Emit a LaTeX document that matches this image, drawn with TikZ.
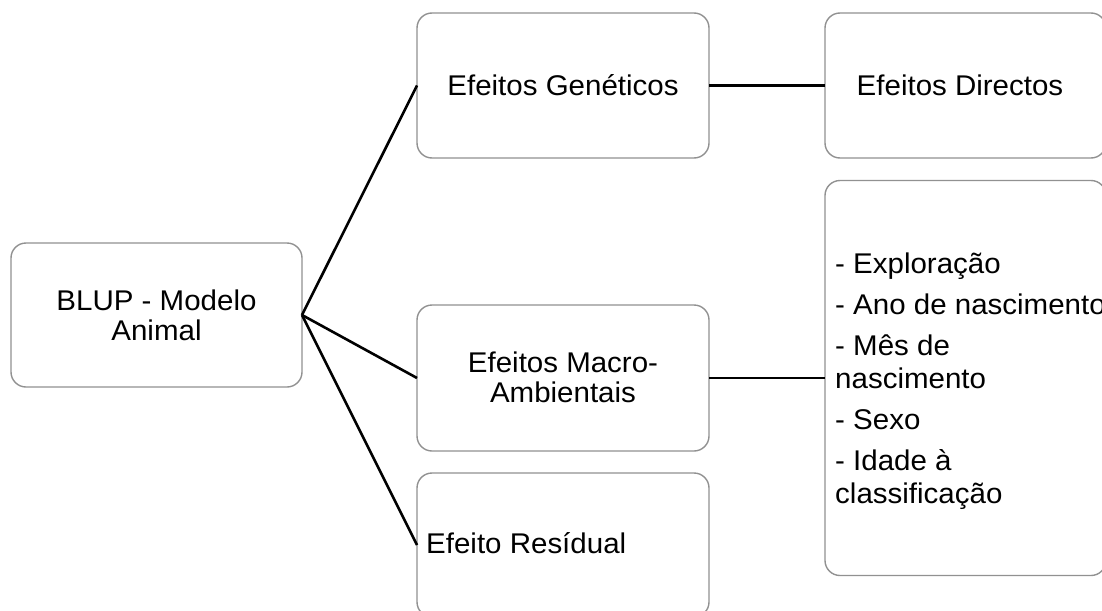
\documentclass[tikz,border=0pt]{standalone}
\usepackage{fontspec}
\setmainfont{Liberation Sans}[FakeStretch=1.035]
\begin{document}
\begin{tikzpicture}[x=1pt,y=-1pt,
  box/.style={draw=boxgray, line width=1.4pt, fill=white, rounded corners=15pt, inner sep=0pt, outer sep=0pt, rectangle},
  conn/.style={draw=black, line width=2.6pt},
  lbl/.style={inner sep=0pt, font=\fontsize{28.5}{32}\selectfont, text=black}]
\definecolor{boxgray}{RGB}{145,145,145}
\useasboundingbox (0,0) rectangle (1102,610);
\clip (0,0) rectangle (1102,610);
% boxes
\node[box, minimum width=291pt, minimum height=144pt] (blup) at (156.5,315) {};
\node[box, minimum width=292pt, minimum height=145pt] (gen) at (563,85.5) {};
\node[box, minimum width=292pt, minimum height=146pt] (macro) at (563,378) {};
\node[box, minimum width=292pt, minimum height=144pt] (res) at (563,545) {};
\node[box, minimum width=281pt, minimum height=145pt] (dir) at (965.5,85.5) {};
\node[box, minimum width=281pt, minimum height=395pt] (list) at (965.5,378) {};
% connectors
\draw[conn] (blup.east) -- (gen.west);
\draw[conn] (blup.east) -- (macro.west);
\draw[conn] (blup.east) -- (res.west);
\draw[conn] (gen.east) -- (dir.west);
\draw[conn] (macro.east) -- (list.west);
% texts
\node[lbl, anchor=base] (t1) at (156.5,310) {BLUP - Modelo};
\node[lbl, anchor=base] (t2) at (156.5,340) {Animal};
\node[lbl, anchor=base] (t3) at (563,95) {Efeitos Genéticos};
\node[lbl, anchor=base] (t4) at (960,95) {Efeitos Directos};
\node[lbl, anchor=base] (t5) at (563,372) {Efeitos Macro-};
\node[lbl, anchor=base] (t6) at (563,402) {Ambientais};
\node[lbl, anchor=base west] (t7) at (426,553) {Efeito Resídual};
\node[lbl, anchor=base west] (l1) at (835,273) {- Exploração};
\node[lbl, anchor=base west] (l2) at (835,314) {- Ano de nascimento};
\node[lbl, anchor=base west] (l3) at (835,355) {- Mês de};
\node[lbl, anchor=base west] (l4) at (835,388) {nascimento};
\node[lbl, anchor=base west] (l5) at (835,429) {- Sexo};
\node[lbl, anchor=base west] (l6) at (835,470) {- Idade à};
\node[lbl, anchor=base west] (l7) at (835,503) {classificação};
\end{tikzpicture}
\end{document}
